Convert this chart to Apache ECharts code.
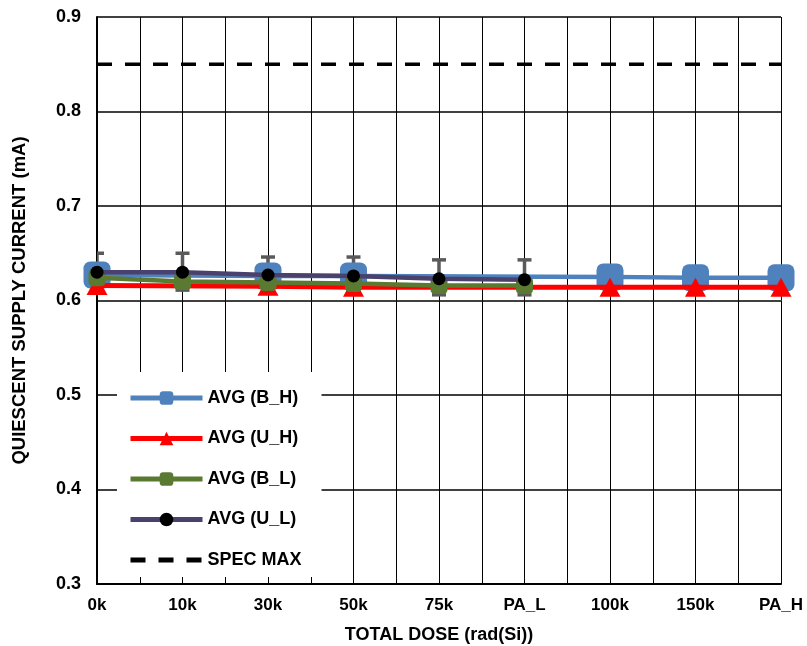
<!DOCTYPE html>
<html>
<head>
<meta charset="utf-8">
<script src="https://cdn.jsdelivr.net/npm/echarts@6/dist/echarts.min.js"></script>
<style>
  html, body { margin: 0; padding: 0; background: #fff; }
  #chart { width: 807px; height: 646px; }
</style>
</head>
<body>
<div id="chart"></div>
<script>
const categories = ['0k', '10k', '30k', '50k', '75k', 'PA_L', '100k', '150k', 'PA_H']
// null = no reading at that step
const avgBH = [0.627, null, 0.626, 0.626, null, null, 0.625, 0.624, 0.624]
const avgUH = [0.616, null, 0.615, 0.614, null, null, 0.614, 0.614, 0.614]
const avgBL = [0.624, 0.620, 0.619, 0.618, 0.616, 0.616]
const avgUL = [0.630, 0.630, 0.627, 0.626, 0.623, 0.622]
const errHigh = [0.650, 0.650, 0.646, 0.646, 0.643, 0.643]
const errLow = [0.609, 0.611, 0.609, 0.608, 0.606, 0.606]
const specMax = 0.85
const yTicks = [0.3, 0.4, 0.5, 0.6, 0.7, 0.8, 0.9]

const font = 'Liberation Sans, Arial, sans-serif'

function toPoints(arr) {
  const pts = []
  arr.forEach((v, i) => { if (v !== null) pts.push([i, v]) })
  return pts
}

const chart = echarts.init(document.getElementById('chart'), null, { renderer: 'canvas' })

chart.setOption({
  animation: false,
  backgroundColor: '#fff',
  grid: { left: 97, right: 26, top: 17, bottom: 62, outerBoundsMode: 'none', containLabel: false },
  xAxis: {
    type: 'value',
    min: 0,
    max: categories.length - 1,
    interval: 0.5,
    name: 'TOTAL DOSE (rad(Si))',
    nameLocation: 'middle',
    nameGap: 42,
    nameTextStyle: { color: '#000', fontWeight: 'bold', fontSize: 18, fontFamily: font },
    axisLine: { lineStyle: { color: '#000', width: 2 } },
    axisTick: { show: true, inside: true, length: 5, lineStyle: { color: '#000', width: 1 } },
    axisLabel: {
      margin: 13,
      color: '#000',
      fontWeight: 'bold',
      fontSize: 17,
      fontFamily: font,
      formatter: v => Number.isInteger(v) ? categories[v] : ''
    },
    splitLine: { show: true, lineStyle: { color: '#000', width: 1 } }
  },
  yAxis: {
    type: 'value',
    min: yTicks[0],
    max: yTicks[yTicks.length - 1],
    interval: 0.1,
    name: 'QUIESCENT SUPPLY CURRENT (mA)',
    nameLocation: 'middle',
    nameGap: 68,
    nameTextStyle: { color: '#000', fontWeight: 'bold', fontSize: 18.5, fontFamily: font },
    axisLine: { show: true, lineStyle: { color: '#000', width: 2 } },
    axisTick: { show: false },
    axisLabel: {
      margin: 16,
      color: '#000',
      fontWeight: 'bold',
      fontSize: 18,
      fontFamily: font,
      formatter: v => v.toFixed(1)
    },
    splitLine: { show: true, lineStyle: { color: '#000', width: 1.5 } }
  },
  legend: {
    orient: 'vertical',
    left: 117,
    top: 372,
    padding: [17, 20, 8, 11],
    backgroundColor: '#fff',
    itemWidth: 72,
    itemHeight: 17,
    itemGap: 22.5,
    lineStyle: { width: 5 },
    textStyle: { color: '#000', fontWeight: 'bold', fontSize: 18, fontFamily: font },
    data: ['AVG (B_H)', 'AVG (U_H)', 'AVG (B_L)', 'AVG (U_L)', 'SPEC MAX']
  },
  series: [
    {
      name: 'error',
      type: 'custom',
      clip: true,
      z: 1,
      data: errHigh.map((h, i) => [i, errLow[i], h]),
      renderItem: (params, api) => {
        const top = api.coord([api.value(0), api.value(2)])
        const bot = api.coord([api.value(0), api.value(1)])
        const half = 7
        const style = { stroke: '#5a5a5a', lineWidth: 3.5 }
        return {
          type: 'group',
          children: [
            { type: 'line', shape: { x1: top[0], y1: top[1], x2: bot[0], y2: bot[1] }, style },
            { type: 'line', shape: { x1: top[0] - half, y1: top[1], x2: top[0] + half, y2: top[1] }, style },
            { type: 'line', shape: { x1: bot[0] - half, y1: bot[1], x2: bot[0] + half, y2: bot[1] }, style }
          ]
        }
      }
    },
    {
      name: 'AVG (B_H)',
      type: 'line',
      z: 2,
      data: toPoints(avgBH),
      symbol: 'roundRect',
      symbolSize: 27,
      itemStyle: { color: '#4F81BD' },
      lineStyle: { color: '#4F81BD', width: 4.5 }
    },
    {
      name: 'AVG (U_H)',
      type: 'line',
      z: 3,
      data: toPoints(avgUH),
      symbol: 'triangle',
      symbolSize: [21, 19],
      itemStyle: { color: '#FF0000' },
      lineStyle: { color: '#FF0000', width: 5 }
    },
    {
      name: 'AVG (B_L)',
      type: 'line',
      z: 4,
      data: toPoints(avgBL),
      symbol: 'roundRect',
      symbolSize: 17,
      itemStyle: { color: '#5B7A31' },
      lineStyle: { color: '#5B7A31', width: 4.5 }
    },
    {
      name: 'AVG (U_L)',
      type: 'line',
      z: 5,
      data: toPoints(avgUL),
      symbol: 'circle',
      symbolSize: 13,
      itemStyle: { color: '#000' },
      lineStyle: { color: '#4A416C', width: 4.5 }
    },
    {
      name: 'SPEC MAX',
      type: 'line',
      z: 2,
      data: categories.map((c, i) => [i, specMax]),
      symbol: 'none',
      itemStyle: { color: 'rgba(0,0,0,0)' },
      lineStyle: { color: '#000', width: 3.5, type: [15, 13] }
    }
  ]
})
</script>
</body>
</html>
